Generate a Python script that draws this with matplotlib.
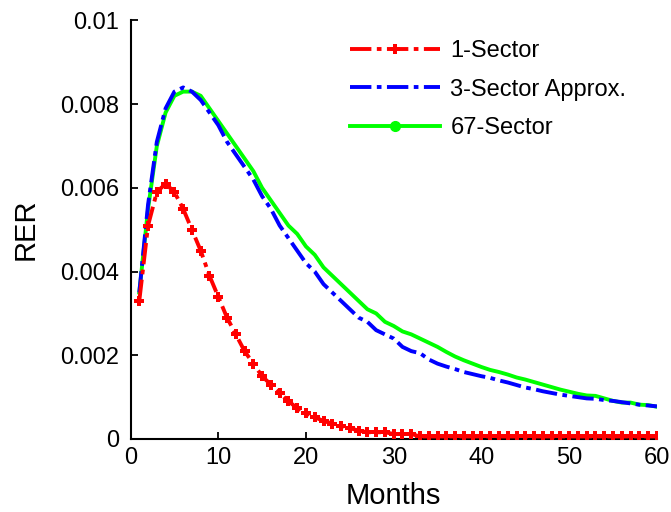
import matplotlib
matplotlib.use("Agg")
import matplotlib.pyplot as plt
import numpy as np
from matplotlib.lines import Line2D
from matplotlib.ticker import FuncFormatter

plt.rcParams['font.family'] = ['Liberation Sans', 'DejaVu Sans']

months = list(range(1, 61))

sector1 = [0.0033, 0.0051, 0.0059, 0.0061, 0.0059, 0.0055, 0.0050, 0.0045, 0.0039, 0.0034,
           0.0029, 0.0025, 0.0021, 0.0018, 0.0015, 0.0013, 0.0011, 0.0009, 0.00074, 0.00062,
           0.00052, 0.00043, 0.00037, 0.00032, 0.00026, 0.0002, 0.00016, 0.00016, 0.00016, 0.00012,
           0.00012, 0.00012] + [0.00006] * 28

sector3 = [0.0035, 0.0056, 0.0071, 0.0079, 0.0083, 0.0084, 0.0083, 0.0081, 0.0078, 0.0075,
           0.0071, 0.0068, 0.0065, 0.0062, 0.0058, 0.0055, 0.0051, 0.0048, 0.0045, 0.0042,
           0.0040, 0.0037, 0.0035, 0.0033, 0.0031, 0.0029, 0.0028, 0.0026, 0.0025, 0.0024,
           0.0022, 0.0021, 0.00205, 0.0019, 0.0018, 0.00173, 0.00167, 0.0016, 0.00155, 0.0015,
           0.00146, 0.0014, 0.00135, 0.00129, 0.00123, 0.00119, 0.00114, 0.0011, 0.00106, 0.00103,
           0.0010, 0.00097, 0.00096, 0.00093, 0.00091, 0.00088, 0.00085, 0.00082, 0.0008, 0.00078]

sector67 = [0.0035, 0.0055, 0.0070, 0.0078, 0.0082, 0.0083, 0.0083, 0.0082, 0.0079, 0.0076,
            0.0073, 0.0070, 0.0067, 0.0064, 0.0060, 0.0057, 0.0054, 0.0051, 0.0049, 0.0046,
            0.0044, 0.0041, 0.0039, 0.0037, 0.0035, 0.0033, 0.0031, 0.0030, 0.0028, 0.0027,
            0.00257, 0.0025, 0.0024, 0.0023, 0.0022, 0.00208, 0.00197, 0.00188, 0.0018, 0.00172,
            0.00165, 0.0016, 0.00154, 0.00147, 0.00142, 0.00136, 0.0013, 0.00124, 0.00118, 0.00113,
            0.00108, 0.00104, 0.00103, 0.00097, 0.00091, 0.00087, 0.00087, 0.00082, 0.00081, 0.00077]

labels = ['1-Sector', '3-Sector Approx.', '67-Sector']
xticks = [0, 10, 20, 30, 40, 50, 60]
yticks = [0, 0.002, 0.004, 0.006, 0.008, 0.01]

fig = plt.figure(figsize=(6.71, 5.12), dpi=100)
ax = fig.add_axes([0.1945, 0.1426, 0.7845, 0.8174])

dash = (0, (5.5, 1.4, 1.2, 1.4))
lw = 2.8
ax.plot(months, sector67, color='#00ff00', lw=lw, linestyle='-', zorder=2)
ax.plot(months, sector3, color='#0000ff', lw=lw, linestyle=dash, zorder=3)
ax.plot(months, sector1, color='#ff0000', lw=lw, linestyle=dash, marker='P',
        markersize=6.5, markeredgewidth=0, zorder=4)

ax.set_xlim(0, 60)
ax.set_ylim(0, 0.01)
ax.set_xticks(xticks)
ax.set_yticks(yticks)
ax.yaxis.set_major_formatter(FuncFormatter(lambda v, p: '%g' % round(v, 4)))

for s in ['top', 'right']:
    ax.spines[s].set_visible(False)
for s in ['left', 'bottom']:
    ax.spines[s].set_linewidth(1.5)
ax.tick_params(direction='in', length=5, width=1.3, labelsize=17)
ax.tick_params(axis='y', pad=8)
ax.tick_params(axis='x', pad=6)

ax.set_xlabel('Months', fontsize=21, labelpad=9)
ax.set_ylabel('RER', fontsize=21, labelpad=15)

handles = [
    Line2D([], [], color='#ff0000', lw=lw, linestyle=dash, marker='P', markersize=6.5,
           markeredgewidth=0),
    Line2D([], [], color='#0000ff', lw=lw, linestyle=dash),
    Line2D([], [], color='#00ff00', lw=lw, linestyle='-', marker='o', markersize=7),
]
leg = ax.legend(handles, labels, loc='upper left', bbox_to_anchor=(350 / 671, 1 - 40 / 512),
                bbox_transform=fig.transFigure, frameon=False, fontsize=17,
                handlelength=3.8, handletextpad=0.45, labelspacing=0.7, borderpad=0,
                borderaxespad=0, markerscale=1.0)

fig.savefig('out.png', dpi=100)
